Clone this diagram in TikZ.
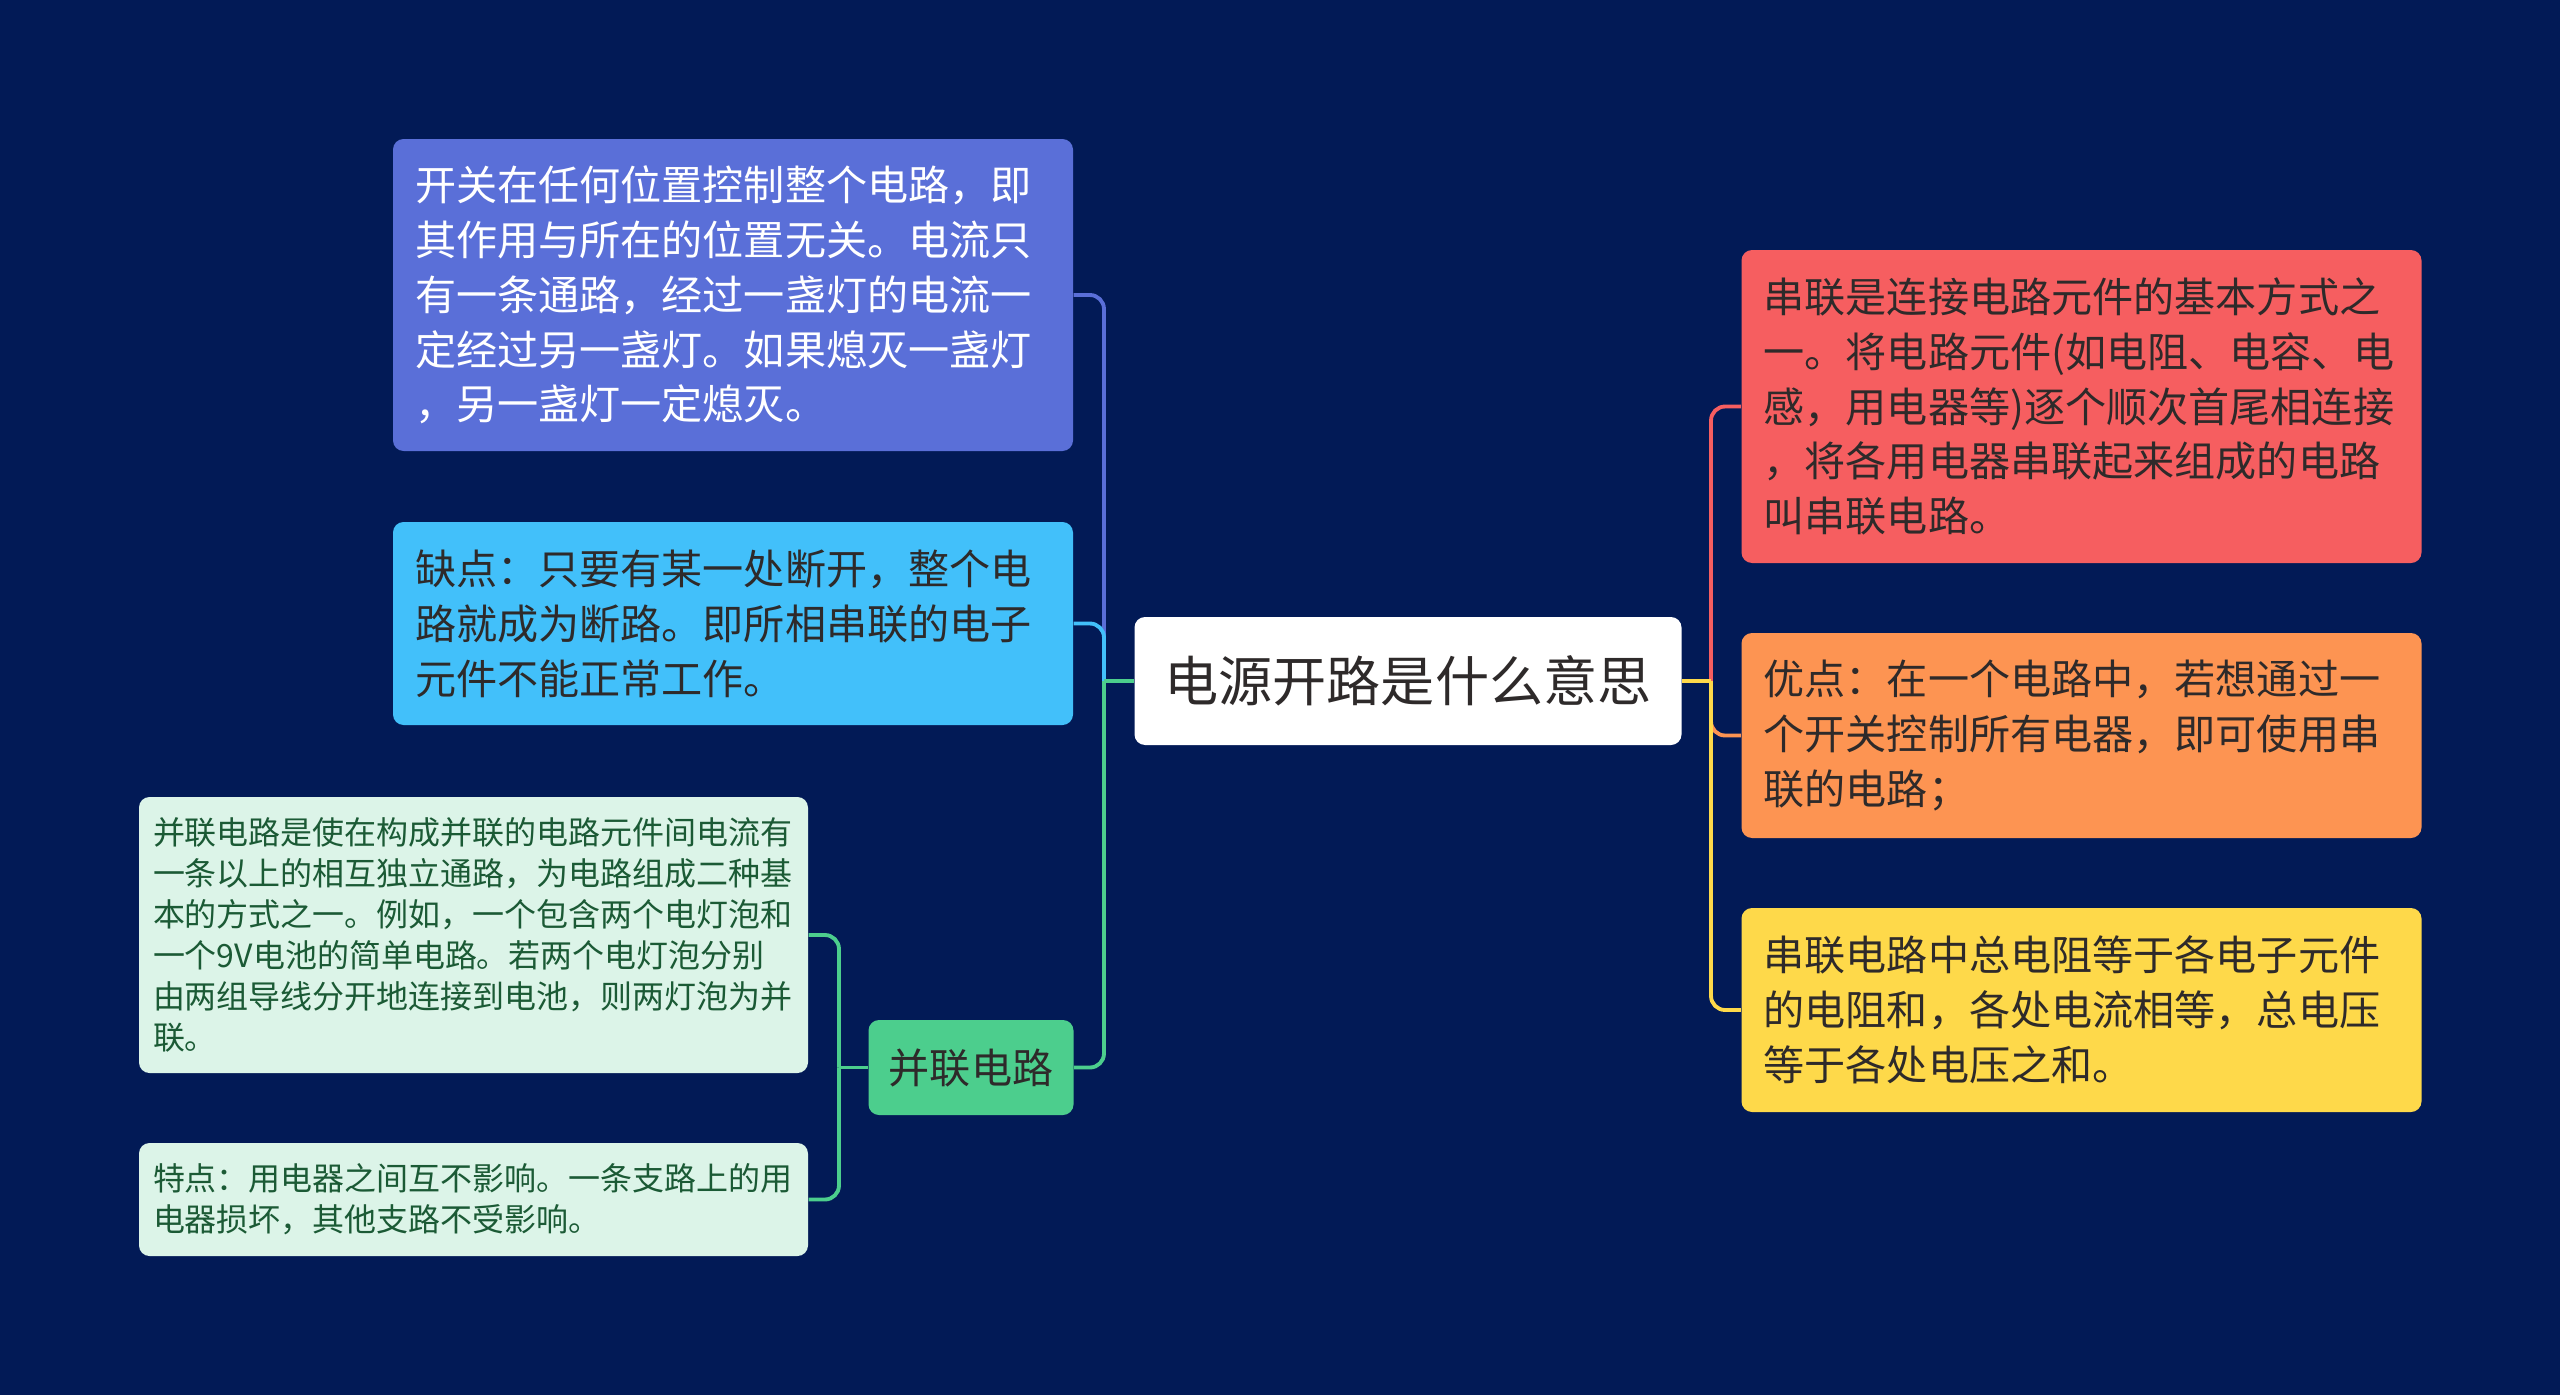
\documentclass[tikz,border=0pt]{standalone}
\usepackage{fontspec}
\setmainfont{Noto Sans CJK SC}
\usetikzlibrary{positioning,calc}

\definecolor{bgnavy}{HTML}{021A56}
\definecolor{topblue}{HTML}{5A6FD8}
\definecolor{skyblue}{HTML}{42C0FA}
\definecolor{leafgreen}{HTML}{4CCE8D}
\definecolor{mint}{HTML}{DCF4E8}
\definecolor{mintText}{HTML}{1B5A35}
\definecolor{coral}{HTML}{F65E60}
\definecolor{apricot}{HTML}{FD9452}
\definecolor{sun}{HTML}{FED94A}
\definecolor{inkdark}{HTML}{2E2A2A}

\begin{document}
\begin{tikzpicture}[
    box/.style={rectangle, rounded corners=3pt, inner ysep=0pt, align=left},
    bigbox/.style={box, text width=6.36cm, inner xsep=0.22cm, font=\fontsize{11.7}{15.6}\selectfont},
    smallbox/.style={box, text width=6.41cm, inner xsep=0.14cm, font=\fontsize{9.1}{11.7}\selectfont},
    conn/.style={line width=1.1pt, rounded corners=4pt}
  ]
    \useasboundingbox (0,0) rectangle (25.6,-13.94);
    \fill[bgnavy] (-0.1,0.1) rectangle (25.7,-14.04);

    % Root
    \node[rectangle, rounded corners=3pt, fill=white, text=inkdark, minimum width=5.47cm, minimum height=1.28cm,
          font=\fontsize{15.4}{18}\selectfont] (root) at (14.08,-6.81) {电源开路是什么意思};

    % Left branch
    \node[bigbox, fill=topblue, text=white, minimum height=3.12cm] (whole) at (7.33,-2.95)
      {开关在任何位置控制整个电路，即\\其作用与所在的位置无关。电流只\\有一条通路，经过一盏灯的电流一\\定经过另一盏灯。如果熄灭一盏灯\\，另一盏灯一定熄灭。};
    \node[bigbox, fill=skyblue, text=inkdark, minimum height=2.03cm] (weak) at (7.33,-6.235)
      {缺点：只要有某一处断开，整个电\\路就成为断路。即所相串联的电子\\元件不能正常工作。};
    \node[rectangle, rounded corners=3pt, fill=leafgreen, text=inkdark, minimum width=2.05cm, minimum height=0.95cm,
          font=\fontsize{11.7}{14}\selectfont] (para) at (9.71,-10.675) {并联电路};

    % Parallel children
    \node[smallbox, fill=mint, text=mintText, minimum height=2.76cm] (paradef) at (4.735,-9.35)
      {并联电路是使在构成并联的电路元件间电流有\\一条以上的相互独立通路，为电路组成二种基\\本的方式之一。例如，一个包含两个电灯泡和\\一个9V电池的简单电路。若两个电灯泡分别\\由两组导线分开地连接到电池，则两灯泡为并\\联。};
    \node[smallbox, fill=mint, text=mintText, minimum height=1.13cm] (paratrait) at (4.735,-11.995)
      {特点：用电器之间互不影响。一条支路上的用\\电器损坏，其他支路不受影响。};

    % Right branch
    \node[bigbox, fill=coral, text=inkdark, minimum height=3.13cm] (series) at (20.815,-4.065)
      {串联是连接电路元件的基本方式之\\一。将电路元件(如电阻、电容、电\\感，用电器等)逐个顺次首尾相连接\\，将各用电器串联起来组成的电路\\叫串联电路。};
    \node[bigbox, fill=apricot, text=inkdark, minimum height=2.05cm] (merit) at (20.815,-7.355)
      {优点：在一个电路中，若想通过一\\个开关控制所有电器，即可使用串\\联的电路；};
    \node[bigbox, fill=sun, text=inkdark, minimum height=2.04cm] (sum) at (20.815,-10.10)
      {串联电路中总电阻等于各电子元件\\的电阻和，各处电流相等，总电压\\等于各处电压之和。};

    % Connectors left
    \coordinate (lt) at (11.04,-6.81);
    \draw[conn, topblue] (lt) |- (whole.east);
    \draw[conn, skyblue] (lt) |- (weak.east);
    \draw[conn, leafgreen] (lt) |- (para.east);
    \draw[conn, leafgreen] (root.west) -- (lt);

    \coordinate (pt) at (8.39,-10.675);
    \draw[conn, leafgreen] (para.west) -- (pt);
    \draw[conn, leafgreen] (pt) |- (paradef.east);
    \draw[conn, leafgreen] (pt) |- (paratrait.east);

    % Connectors right
    \coordinate (rt) at (17.11,-6.81);
    \draw[conn, coral] (rt) |- (series.west);
    \draw[conn, apricot] (rt) |- (merit.west);
    \draw[conn, sun] (rt) |- (sum.west);
    \draw[conn, sun] (root.east) -- (rt);
\end{tikzpicture}
\end{document}
